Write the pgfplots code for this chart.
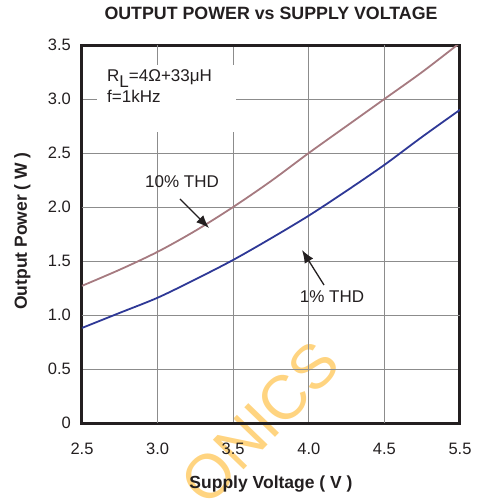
\documentclass[border=0pt]{standalone}
\usepackage{pgfplots}
\pgfplotsset{compat=1.18}
\usetikzlibrary{arrows.meta}
\usepackage{fontspec}
\setmainfont{Liberation Sans}
\definecolor{pinkc}{RGB}{166,122,128}
\definecolor{bluec}{RGB}{46,56,150}
\definecolor{framec}{RGB}{35,31,32}
\definecolor{gridg}{RGB}{140,140,140}
\definecolor{wm}{RGB}{255,212,128}
\begin{document}
\begin{tikzpicture}[x=1pt,y=1pt]
\useasboundingbox (-82,-76) rectangle (396,423);
\node[rotate=46, text=wm, font=\fontsize{62}{62}\selectfont] at (178,0) {ONICS};
\begin{axis}[at={(0,0)}, anchor=south west, scale only axis,
  width=378pt, height=378pt,
  xmin=0, xmax=5, ymin=0, ymax=3.5,
  xtick={0,1,2,3,4,5}, xticklabels={2.5,3.0,3.5,4.0,4.5,5.5},
  ytick={0,0.5,1,1.5,2,2.5,3,3.5}, yticklabels={0,0.5,1.0,1.5,2.0,2.5,3.0,3.5},
  major tick length=0pt,
  grid=major, major grid style={gridg, line width=1pt},
  extra x ticks={1,4}, extra x tick labels={},
  extra x tick style={grid style={framec, line width=1pt}},
  extra y ticks={1,2}, extra y tick labels={},
  extra y tick style={grid style={framec, line width=1pt}},
  axis line style={framec, line width=3pt},
  tick label style={font=\fontsize{16.5}{18}\selectfont, text=framec},
  xticklabel style={inner sep=0pt, yshift=-20pt},
  yticklabel style={inner sep=0pt, xshift=-11pt},
  /pgf/number format/assume math mode=true,
]
\addplot[pinkc, line width=1.8pt, smooth] coordinates {
(0,1.27) (0.5,1.42) (1,1.585) (1.5,1.78) (2,2.0) (2.5,2.24) (3,2.5) (3.5,2.75) (4,3.0) (4.5,3.25) (5,3.52)};
\addplot[bluec, line width=1.8pt, smooth] coordinates {
(0,0.88) (0.5,1.02) (1,1.16) (1.5,1.33) (2,1.51) (2.5,1.71) (3,1.92) (3.5,2.15) (4,2.39) (4.5,2.65) (5,2.90)};
\end{axis}
\fill[white] (15,291) rectangle (153.5,358);
\node[anchor=base west, inner sep=0pt, font=\fontsize{17}{20}\selectfont, text=framec] at (25,341) {R\raisebox{-0.3em}{L}=4Ω+33μH};
\node[anchor=base west, inner sep=0pt, font=\fontsize{17}{20}\selectfont, text=framec] at (25,320) {f=1kHz};
\node[anchor=base, inner sep=0pt, font=\fontsize{17}{20}\selectfont, text=framec] at (100,235) {10\% THD};
\node[anchor=base, inner sep=0pt, font=\fontsize{17}{20}\selectfont, text=framec] at (250,121) {1\% THD};
\draw[framec, line width=1.3pt, -{Latex[length=13pt,width=10pt]}] (98,224) -- (127,195);
\draw[framec, line width=1.3pt, -{Latex[length=13pt,width=10pt]}] (242,138) -- (220,173);
\node[anchor=base, inner sep=0pt, font=\bfseries\fontsize{17.8}{20}\selectfont, text=framec] at (189,403) {OUTPUT POWER vs SUPPLY VOLTAGE};
\node[anchor=base, inner sep=0pt, font=\bfseries\fontsize{17.5}{20}\selectfont, text=framec] at (189,-65) {Supply Voltage ( V )};
\node[anchor=base, rotate=90, inner sep=0pt, font=\bfseries\fontsize{17.5}{20}\selectfont, text=framec] at (-55,192) {Output Power ( W )};
\end{tikzpicture}
\end{document}
